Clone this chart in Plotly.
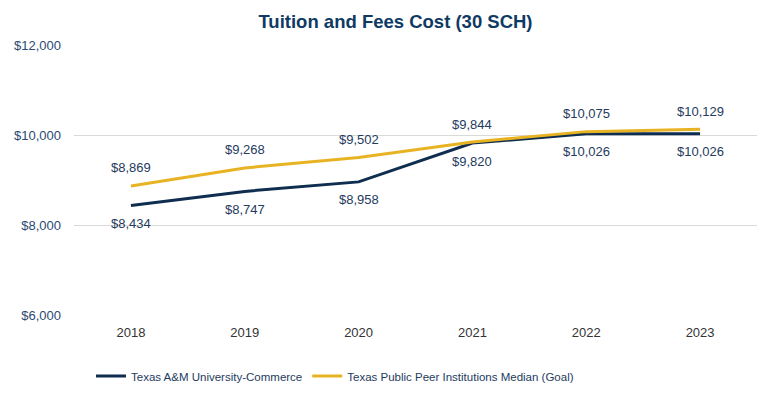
import plotly.graph_objects as go

years = ["2018", "2019", "2020", "2021", "2022", "2023"]
tamuc = [8434, 8747, 8958, 9820, 10026, 10026]
peer = [8869, 9268, 9502, 9844, 10075, 10129]
series_names = ["Texas A&M University-Commerce", "Texas Public Peer Institutions Median (Goal)"]
y_ticks = [6000, 8000, 10000, 12000]

navy = "#0E2D4F"
gold = "#E8B323"
label_color = "#243B5E"
font_family = "Liberation Sans, Arial, sans-serif"

fig = go.Figure()
fig.add_trace(go.Scatter(x=years, y=tamuc, mode="lines", name=series_names[0],
                         line=dict(color=navy, width=3)))
fig.add_trace(go.Scatter(x=years, y=peer, mode="lines", name=series_names[1],
                         line=dict(color=gold, width=3)))

annotations = []
for i, v in enumerate(tamuc):
    annotations.append(dict(x=i, y=v, xref="x", yref="y", text=f"${v:,}", showarrow=False,
                            yshift=-18, font=dict(size=13, color=label_color, family=font_family)))
for i, v in enumerate(peer):
    annotations.append(dict(x=i, y=v, xref="x", yref="y", text=f"${v:,}", showarrow=False,
                            yshift=18, font=dict(size=13, color=label_color, family=font_family)))

fig.update_layout(
    width=775, height=391,
    margin=dict(l=66, r=26, t=37, b=84, autoexpand=False),
    paper_bgcolor="white", plot_bgcolor="white",
    font=dict(family=font_family, size=13, color=label_color),
    title=dict(text="<b>Tuition and Fees Cost (30 SCH)</b>", x=0.5, xanchor="center",
               y=1 - 14 / 391, yanchor="middle", font=dict(size=18.5, color="#0E3A63", family=font_family)),
    xaxis=dict(type="category", range=[-0.5, 5.5], showgrid=False, showline=False, zeroline=False,
               ticks="", tickfont=dict(size=13, color="#333333"), ticklabelstandoff=8, automargin=False),
    yaxis=dict(range=[6000, 12000], tickvals=y_ticks, ticktext=[f"${t:,}" for t in y_ticks],
               showgrid=True, gridcolor="#D9D9D9", gridwidth=1, zeroline=False, showline=False,
               ticks="", tickfont=dict(size=13, color="#2B4A73"), ticklabelstandoff=12, automargin=False),
    showlegend=True,
    legend=dict(orientation="h", xref="container", yref="container", x=83 / 775, xanchor="left",
                y=23 / 391, yanchor="middle", font=dict(size=11.5, color=label_color)),
    annotations=annotations,
)

fig.write_html("out.html")
